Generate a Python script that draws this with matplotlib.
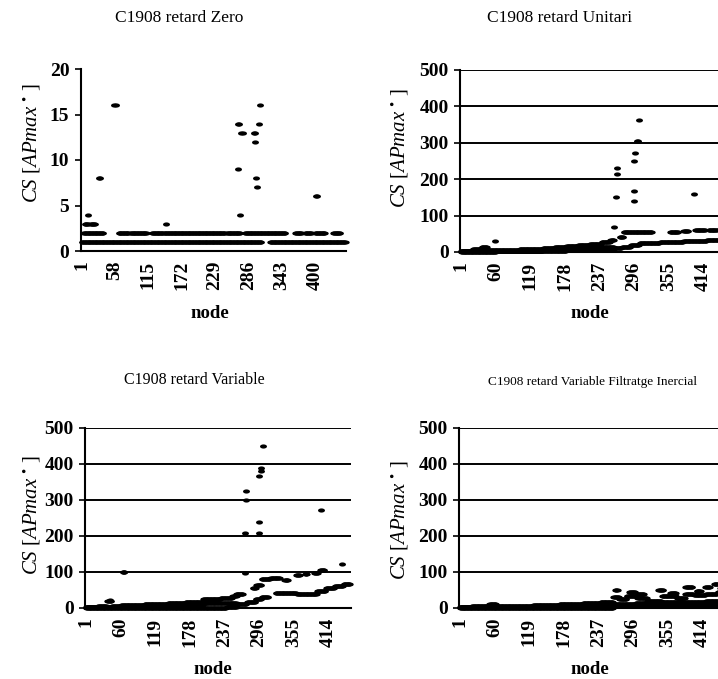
import numpy as np
import matplotlib
matplotlib.use("Agg")
import matplotlib.pyplot as plt
from matplotlib.path import Path

plt.rcParams['font.family'] = ['Liberation Serif', 'DejaVu Serif']
plt.rcParams['mathtext.fontset'] = 'custom'
plt.rcParams['mathtext.rm'] = 'Liberation Serif'
plt.rcParams['mathtext.it'] = 'Liberation Serif:italic'
plt.rcParams['mathtext.bf'] = 'Liberation Serif:bold'

# ---------------- data ----------------
titles = ["C1908 retard Zero", "C1908 retard Unitari",
          "C1908 retard Variable", "C1908 retard Variable Filtratge Inercial"]
zero_ticks = [1, 58, 115, 172, 229, 286, 343, 400]
other_ticks = [1, 60, 119, 178, 237, 296, 355, 414]
zero_yticks = [0, 5, 10, 15, 20]
other_yticks = [0, 100, 200, 300, 400, 500]

# runs: (first node, last node, value)
zero_one = [(1, 308, 1), (323, 452, 1)]
zero_two = [(4, 38, 2), (64, 81, 2), (84, 112, 2), (121, 141, 2), (143, 246, 2),
            (249, 272, 2), (280, 349, 2), (366, 377, 2), (383, 394, 2),
            (400, 417, 2), (431, 443, 2)]
zero_three = [(6, 12, 3), (16, 24, 3)]
zero_pt_node = [12, 30, 32, 57, 59, 146, 268, 270, 274, 276, 269, 272,
                296, 298, 297, 299, 301, 304, 306, 402, 404]
zero_pt_val = [4, 8, 8, 16, 16, 3, 14, 14, 13, 13, 9, 4,
               13, 13, 12, 8, 7, 14, 16, 6, 6]

uni_low = [(1, 60, 1), (61, 120, 2), (121, 180, 3), (181, 240, 5), (241, 262, 8)]
uni_a = [(1, 20, 4), (21, 35, 7), (36, 45, 14), (46, 56, 6), (57, 100, 5),
         (101, 140, 7), (141, 160, 10), (161, 180, 13), (181, 200, 16),
         (201, 220, 19), (221, 240, 23), (241, 255, 27), (256, 262, 33)]
uni_b = [(1, 100, 2), (101, 140, 4), (141, 180, 6), (181, 220, 9), (221, 262, 13)]
uni_right = [(263, 275, 12), (276, 290, 15), (291, 305, 19), (306, 340, 24),
             (341, 380, 27), (381, 420, 30), (421, 452, 33)]
uni_mid = [(272, 278, 42), (279, 327, 54), (358, 372, 56), (381, 389, 58),
           (401, 418, 60), (424, 438, 61), (443, 452, 62)]
uni_pt_node = [59, 262, 266, 267, 267, 296, 296, 297, 298, 302, 304, 305, 399]
uni_pt_val = [30, 68, 150, 214, 232, 141, 168, 250, 273, 305, 305, 364, 159]

var_low = [(1, 240, 1), (241, 258, 3)]
var_a = [(1, 20, 3), (21, 36, 6), (37, 44, 20), (45, 60, 5), (61, 100, 7),
         (101, 140, 10), (141, 170, 14), (171, 200, 18), (201, 230, 24),
         (231, 250, 29), (251, 258, 33)]
var_b = [(1, 100, 3), (101, 160, 5), (161, 200, 9), (201, 258, 14)]
var_right = [(259, 275, 12), (276, 290, 16), (291, 300, 24), (301, 312, 30),
             (325, 360, 42), (361, 395, 40), (396, 410, 47), (411, 425, 56),
             (426, 440, 62), (441, 452, 66)]
var_mid = [(257, 269, 40), (286, 291, 55), (292, 300, 65), (301, 315, 80),
           (316, 332, 82), (340, 346, 77)]
var_hundred = [(360, 366, 93), (375, 378, 95), (391, 397, 97), (401, 408, 106)]
var_pt_node = [41, 64, 65, 66, 274, 274, 273, 273, 297, 297, 297, 299, 300, 303, 402, 439]
var_pt_val = [23, 100, 100, 100, 324, 300, 208, 97, 208, 240, 366, 389, 380, 449, 273, 122]

fil_low = [(1, 262, 1), (263, 452, 8)]
fil_a = [(1, 20, 4), (21, 50, 6), (51, 62, 12), (63, 100, 5), (101, 125, 6),
         (126, 130, 9), (131, 170, 7), (171, 210, 10), (211, 240, 13), (241, 262, 17)]
fil_b = [(1, 120, 2), (121, 200, 4), (201, 262, 8)]
fil_r1 = [(263, 300, 12), (301, 340, 15), (341, 380, 16), (381, 420, 18), (421, 452, 20)]
fil_r2 = [(263, 272, 30), (273, 285, 25), (286, 303, 32), (304, 320, 28),
          (321, 345, 20), (346, 370, 33), (371, 385, 28), (386, 400, 38),
          (401, 420, 35), (421, 440, 40), (441, 452, 45)]
fil_r3 = [(266, 270, 50), (290, 300, 44), (305, 315, 38), (340, 348, 50),
          (360, 370, 42), (386, 398, 57), (405, 412, 48), (420, 428, 58),
          (435, 442, 68), (445, 452, 55)]


def expand(runs):
    nodes, vals = [], []
    for s, e, v in runs:
        n = np.arange(s, e + 1)
        nodes.append(n)
        vals.append(np.full(n.size, v, dtype=float))
    return np.concatenate(nodes), np.concatenate(vals)


# ---------------- figure ----------------
W, H = 718, 679
fig = plt.figure(figsize=(W / 100, H / 100), dpi=100)

t = np.linspace(0, 2 * np.pi, 41)
ell = Path(np.column_stack([np.cos(t), 0.6 * np.sin(t)]))


def make_ax(left, top, bottom, width=265.6):
    return fig.add_axes([left / W, (H - bottom) / H, width / W, (bottom - top) / H])


panels = [
    dict(ax=make_ax(80.5, 69, 251), runs=[zero_one, zero_two, zero_three],
         pts=(zero_pt_node, zero_pt_val), ticks=zero_ticks, yt=zero_yticks,
         grid=False, title=(179, 18, 12.5), xl=(210, 313), yl=(32, 143)),
    dict(ax=make_ax(460, 70, 252), runs=[uni_low, uni_a, uni_b, uni_right, uni_mid],
         pts=(uni_pt_node, uni_pt_val), ticks=other_ticks, yt=other_yticks,
         grid=True, title=(560, 18, 12.5), xl=(590, 313), yl=(400, 148)),
    dict(ax=make_ax(85, 428, 608), runs=[var_low, var_a, var_b, var_right, var_mid, var_hundred],
         pts=(var_pt_node, var_pt_val), ticks=other_ticks, yt=other_yticks,
         grid=True, title=(194, 380, 11.5), xl=(213, 670), yl=(32, 515)),
    dict(ax=make_ax(459, 428, 608), runs=[fil_low, fil_a, fil_b, fil_r1, fil_r2, fil_r3],
         pts=([], []), ticks=other_ticks, yt=other_yticks,
         grid=True, title=(592, 382, 9.5), xl=(590, 670), yl=(400, 520)),
]

ylabel = '$CS\\ \\mathrm{[}APmax\\ ^{\\mathrm{\u2022}}\\ \\mathrm{]}$'

for i, p in enumerate(panels):
    ax = p['ax']
    for r in p['runs']:
        n, v = expand(r)
        ax.plot(n, v, ls='none', marker=ell, ms=4.6, color='black', mec='black',
                mew=0, clip_on=False, zorder=3)
    if len(p['pts'][0]):
        ax.plot(p['pts'][0], p['pts'][1], ls='none', marker=ell, ms=5.0,
                color='black', mew=0, clip_on=False, zorder=3)
    ax.set_xlim(-1, 453)
    ax.set_ylim(p['yt'][0], p['yt'][-1])
    ax.set_xticks(p['ticks'])
    ax.set_xticklabels([str(v) for v in p['ticks']], rotation=90,
                       fontsize=14, fontweight='bold')
    ax.set_yticks(p['yt'])
    ax.set_yticklabels([str(v) for v in p['yt']], fontsize=14, fontweight='bold')
    ax.tick_params(axis='x', length=0, pad=7)
    ax.tick_params(axis='y', length=4, width=1.2, direction='out', pad=4)
    for s in ['top', 'right']:
        ax.spines[s].set_visible(False)
    for s in ['left', 'bottom']:
        ax.spines[s].set_linewidth(1.5)
        ax.spines[s].set_color('black')
    if p['grid']:
        ax.yaxis.grid(True, color='black', linewidth=1.4)
    ax.set_facecolor('none')
    fig.text(p['title'][0] / W, 1 - p['title'][1] / H, titles[i], ha='center',
             va='center', fontsize=p['title'][2])
    fig.text(p['xl'][0] / W, 1 - p['xl'][1] / H, 'node', ha='center', va='center',
             fontsize=13.5, fontweight='bold')
    fig.text(p['yl'][0] / W, 1 - p['yl'][1] / H, ylabel, ha='center', va='center',
             rotation=90, fontsize=15)

fig.savefig('out.png', dpi=100)
